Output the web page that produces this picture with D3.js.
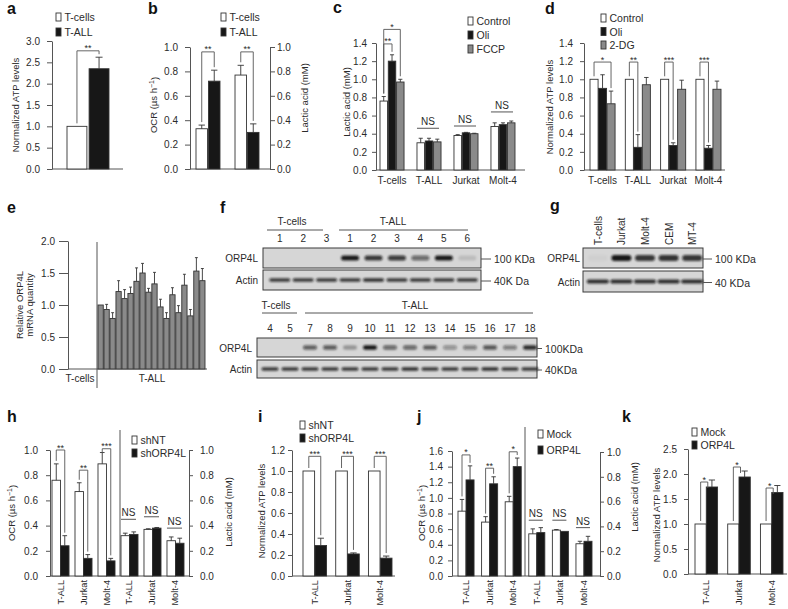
<!DOCTYPE html>
<html><head><meta charset="utf-8">
<script src="https://cdn.jsdelivr.net/npm/d3@7"></script>
<style>
body{margin:0;background:#fff;}
svg{display:block;}
</style></head><body>
<svg id="fig" width="788" height="609"></svg>
<script>
// ================= DATA =================
// (a) ATP levels
const aGroups = ["ATP"];
const aSeries = ["T-cells", "T-ALL"];
const aValues = [[1.00], [2.35]];
const aErrors = [[0.00], [0.27]];
const aTicks = [0, 0.5, 1.0, 1.5, 2.0, 2.5, 3.0];
// (b) OCR (left) / lactic acid (right)
const bGroups = ["OCR", "Lactic acid"];
const bSeries = ["T-cells", "T-ALL"];
const bValues = [[0.33, 0.77], [0.72, 0.30]];
const bErrors = [[0.03, 0.08], [0.09, 0.07]];
const bTicks = [0, 0.2, 0.4, 0.6, 0.8, 1.0];
// (c) lactic acid
const cGroups = ["T-cells", "T-ALL", "Jurkat", "Molt-4"];
const cSeries = ["Control", "Oli", "FCCP"];
const cValues = [[0.76, 0.30, 0.38, 0.48], [1.20, 0.32, 0.41, 0.50], [0.97, 0.31, 0.40, 0.52]];
const cErrors = [[0.05, 0.05, 0.01, 0.04], [0.07, 0.03, 0.005, 0.02], [0.03, 0.03, 0.005, 0.02]];
const cTicks = [0, 0.2, 0.4, 0.6, 0.8, 1.0, 1.2, 1.4];
// (d) ATP levels
const dGroups = ["T-cells", "T-ALL", "Jurkat", "Molt-4"];
const dSeries = ["Control", "Oli", "2-DG"];
const dValues = [[1, 1, 1, 1], [0.90, 0.25, 0.27, 0.24], [0.73, 0.94, 0.89, 0.89]];
const dErrors = [[0, 0, 0, 0], [0.15, 0.14, 0.03, 0.03], [0.14, 0.08, 0.10, 0.09]];
const dTicks = [0, 0.2, 0.4, 0.6, 0.8, 1.0, 1.2, 1.4];
// (e) ORP4L mRNA in 18 T-ALL samples
const eSamples = ["1","2","3","4","5","6","7","8","9","10","11","12","13","14","15","16","17","18"];
const eValues = [1.00, 0.93, 0.79, 1.21, 1.10, 1.18, 1.37, 1.50, 1.20, 1.33, 0.97, 0.79, 1.16, 0.88, 1.31, 0.83, 1.53, 1.38];
const eErrors = [0.00, 0.08, 0.09, 0.17, 0.14, 0.10, 0.21, 0.15, 0.06, 0.18, 0.12, 0.09, 0.11, 0.11, 0.17, 0.10, 0.21, 0.19];
const eTicks = [0, 0.5, 1.0, 1.5, 2.0];
// (f) western blots
const fTopLanes = ["1","2","3","1","2","3","4","5","6"];
const fTopORP4L = [0, 0, 0, 0.95, 0.8, 0.78, 0.55, 0.95, 0.12];
const fTopActin = [0.8, 0.8, 0.8, 0.8, 0.85, 0.8, 0.8, 0.8, 0.8];
const fLowLanes = ["4","5","7","8","9","10","11","12","13","14","15","16","17","18"];
const fLowORP4L = [0, 0, 0.6, 0.62, 0.3, 0.95, 0.55, 0.55, 0.62, 0.35, 0.45, 0.65, 0.45, 0.85];
const fLowActin = [0.8, 0.8, 0.8, 0.8, 0.8, 0.8, 0.8, 0.85, 0.8, 0.8, 0.8, 0.85, 0.8, 0.8];
// (g) cell lines blot
const gLanes = ["T-cells", "Jurkat", "Molt-4", "CEM", "MT-4"];
const gORP4L = [0.03, 0.95, 0.8, 0.82, 0.8];
const gActin = [0.85, 0.85, 0.85, 0.85, 0.85];
// (h) shRNA: OCR (left three) / lactic acid (right three)
const hGroups = ["T-ALL", "Jurkat", "Molt-4", "T-ALL", "Jurkat", "Molt-4"];
const hSeries = ["shNT", "shORP4L"];
const hValues = [[0.76, 0.67, 0.89, 0.32, 0.37, 0.28], [0.24, 0.14, 0.12, 0.33, 0.38, 0.26]];
const hErrors = [[0.13, 0.07, 0.09, 0.02, 0.005, 0.03], [0.08, 0.03, 0.02, 0.02, 0.005, 0.04]];
const hTicks = [0, 0.2, 0.4, 0.6, 0.8, 1.0];
// (i) shRNA ATP
const iGroups = ["T-ALL", "Jurkat", "Molt-4"];
const iSeries = ["shNT", "shORP4L"];
const iValues = [[1, 1, 1], [0.29, 0.21, 0.17]];
const iErrors = [[0, 0, 0], [0.07, 0.01, 0.02]];
const iTicks = [0, 0.2, 0.4, 0.6, 0.8, 1.0, 1.2];
// (j) overexpression: OCR (left three) / lactic acid (right three)
const jGroups = ["T-ALL", "Jurkat", "Molt-4", "T-ALL", "Jurkat", "Molt-4"];
const jSeries = ["Mock", "ORP4L"];
const jValues = [[0.83, 0.69, 0.95, 0.34, 0.37, 0.26], [1.23, 1.18, 1.40, 0.35, 0.36, 0.28]];
const jErrors = [[0.15, 0.07, 0.07, 0.04, 0.005, 0.02], [0.18, 0.09, 0.11, 0.04, 0.0, 0.04]];
const jTicksL = [0, 0.2, 0.4, 0.6, 0.8, 1.0, 1.2, 1.4, 1.6];
const jTicksR = [0, 0.2, 0.4, 0.6, 0.8, 1.0];
// (k) overexpression ATP
const kGroups = ["T-ALL", "Jurkat", "Molt-4"];
const kSeries = ["Mock", "ORP4L"];
const kValues = [[1, 1, 1], [1.74, 1.94, 1.63]];
const kErrors = [[0, 0, 0], [0.14, 0.12, 0.14]];
const kTicks = [0, 0.5, 1.0, 1.5, 2.0, 2.5];

// significance annotations (group, bar a, bar b, bracket level in data units)
const aSig = [{g:0, a:0, b:1, top:2.77, label:"**"}];
const bSig = [{g:0, a:0, b:1, top:0.96, label:"**"}, {g:1, a:0, b:1, top:0.96, label:"**"}];
const cSig = [{g:0, a:0, b:1, top:1.39, label:"**"}, {g:0, a:0, b:2, top:1.55, label:"*"}];
const cNS = [{g:1, level:0.46}, {g:2, level:0.485}, {g:3, level:0.64}];
const dSig = [{g:0, a:0, b:2, top:1.19, label:"*"}, {g:1, a:0, b:1, top:1.19, label:"**"}, {g:2, a:0, b:1, top:1.19, label:"***"}, {g:3, a:0, b:1, top:1.19, label:"***"}];
const hSig = [{g:0, a:0, b:1, top:1.0, label:"**"}, {g:1, a:0, b:1, top:0.84, label:"**"}, {g:2, a:0, b:1, top:1.01, label:"***"}];
const hNS = [{g:3, level:0.45}, {g:4, level:0.47}, {g:5, level:0.38}];
const iSig = [{g:0, a:0, b:1, top:1.14, label:"***"}, {g:1, a:0, b:1, top:1.14, label:"***"}, {g:2, a:0, b:1, top:1.14, label:"***"}];
const jSig = [{g:0, a:0, b:1, top:1.55, label:"*"}, {g:1, a:0, b:1, top:1.38, label:"**"}, {g:2, a:0, b:1, top:1.59, label:"*"}];
const jNS = [{g:3, level:0.45}, {g:4, level:0.45}, {g:5, level:0.39}];
const kSig = [{g:0, a:0, b:1, top:1.84, label:"*"}, {g:1, a:0, b:1, top:2.14, label:"*"}, {g:2, a:0, b:1, top:1.72, label:"*"}];

// ================= DRAWING =================
const FONT = '"Liberation Sans", Arial, Helvetica, sans-serif';
const TXT = "#2b2b2b", AX = "#555", BAR = "#333";
const WHITE = "#ffffff", BLACK = "#171717", GRAY = "#8a8a8a";
const svg = d3.select("#fig").attr("font-family", FONT);
svg.append("rect").attr("width", 788).attr("height", 609).attr("fill", "#fff");
const defs = svg.append("defs");
defs.append("filter").attr("id", "blur").attr("x", "-20%").attr("y", "-50%").attr("width", "140%").attr("height", "200%")
  .append("feGaussianBlur").attr("stdDeviation", 0.9);

function txt(x, y, s, o = {}) {
  const t = svg.append("text").attr("x", x).attr("y", y).text(s)
    .attr("font-size", o.size || 10).attr("text-anchor", o.anchor || "start").attr("fill", o.fill || TXT);
  if (o.weight) t.attr("font-weight", o.weight);
  if (o.rot) t.attr("transform", `rotate(${o.rot},${x},${y})`);
  return t;
}
function letter(x, y, s) { txt(x, y, s, {size: 16, weight: "bold", fill: "#111"}); }
function yTitle(x, y, s, size = 9.5) { return txt(x, y, s, {size, anchor: "middle", rot: -90}); }
function ocrTitle(x, y) {
  const t = txt(x, y, "", {size: 9.5, anchor: "middle", rot: -90});
  t.append("tspan").text("OCR (\u00b5s h");
  t.append("tspan").text("\u22121").attr("font-size", 7).attr("dy", "-0.45em");
  t.append("tspan").text(")").attr("dy", "0.45em");
}
function yAxis(scale, x, ticks, o = {}) {
  const ax = (o.right ? d3.axisRight(scale) : d3.axisLeft(scale)).tickValues(ticks)
    .tickFormat(d3.format(".1f")).tickSize(o.tick || 4).tickSizeOuter(0).tickPadding(o.pad || 4);
  const g = svg.append("g").attr("transform", `translate(${x},0)`).call(ax)
    .attr("font-family", FONT).attr("font-size", 10);
  g.select(".domain").attr("stroke", AX);
  g.selectAll(".tick line").attr("stroke", AX);
  g.selectAll(".tick text").attr("fill", TXT);
}
function hLine(x1, x2, y) { svg.append("line").attr("x1", x1).attr("x2", x2).attr("y1", y).attr("y2", y).attr("stroke", AX); }
function vLine(x, y1, y2) { svg.append("line").attr("x1", x).attr("x2", x).attr("y1", y1).attr("y2", y2).attr("stroke", AX); }

function barPanel(cfg) {
  const gIdx = cfg.groups.map((_, i) => i);
  const x0 = d3.scaleBand().domain(gIdx).range(cfg.range).paddingInner(cfg.pad);
  const x1 = d3.scaleBand().domain(cfg.series).range([0, x0.bandwidth()]).paddingInner(cfg.inner);
  const recs = [];
  cfg.series.forEach((s, si) => gIdx.forEach(gi => {
    recs.push({si, gi, v: cfg.values[si][gi], e: cfg.errors ? cfg.errors[si][gi] : 0,
      x: x0(gi) + x1(s), w: x1.bandwidth(), y: cfg.yOf(gi)});
  }));
  const g = svg.append("g");
  g.selectAll("rect").data(recs).join("rect")
    .attr("x", d => d.x).attr("y", d => d.y(d.v)).attr("width", d => d.w)
    .attr("height", d => d.y(0) - d.y(d.v))
    .attr("fill", d => cfg.fills[d.si]).attr("stroke", BAR).attr("stroke-width", 0.9);
  const cap = d => Math.min(d.w * 0.55, 7) / 2;
  g.selectAll("path").data(recs.filter(d => d.e > 0)).join("path")
    .attr("d", d => { const cx = d.x + d.w / 2, y1 = d.y(d.v), y2 = d.y(d.v + d.e);
      return `M${cx},${y1}V${y2}M${cx - cap(d)},${y2}H${cx + cap(d)}`; })
    .attr("stroke", BAR).attr("stroke-width", 0.9).attr("fill", "none");
  const find = (gi, si) => recs.find(d => d.gi === gi && d.si === si);
  return {x0, x1, recs, find};
}
function sigs(P, list, o = {}) {
  list.forEach(s => {
    const A = P.find(s.g, s.a), B = P.find(s.g, s.b), y = A.y;
    const top = y(s.top);
    const xa = A.x + A.w / 2, xb = o.edge ? B.x + 1.5 : B.x + B.w / 2;
    const la = Math.max(top + 4, y(A.v + A.e) - 3);
    const lb = Math.max(top + (o.edge ? 6 : 3), y(B.v + B.e) - 3);
    svg.append("path").attr("d", `M${xa},${la}V${top}H${xb}V${lb}`)
      .attr("fill", "none").attr("stroke", AX).attr("stroke-width", 0.9);
    txt((xa + xb) / 2, top + 0.5, s.label, {size: 9, anchor: "middle"});
  });
}
function nsMarks(P, list) {
  list.forEach(n => {
    const y = P.find(n.g, 0).y, x = P.x0(n.g), w = P.x0.bandwidth();
    hLine(x, x + w - 2, y(n.level));
    txt(x + w / 2 - 1, y(n.level) - 3, "NS", {size: 10, anchor: "middle"});
  });
}
function legend(x, y, labels, fills, step) {
  labels.forEach((l, i) => {
    svg.append("rect").attr("x", x).attr("y", y + i * step).attr("width", 5).attr("height", 8)
      .attr("fill", fills[i]).attr("stroke", BAR).attr("stroke-width", 0.9);
    txt(x + 8.5, y + i * step + 8, l, {size: 10.5});
  });
}
function groupLabels(P, labels, y) {
  labels.forEach((l, i) => txt(P.x0(i) + P.x0.bandwidth() / 2, y, l, {size: 10, anchor: "middle"}));
}
function rotLabels(P, labels, y) {
  labels.forEach((l, i) => txt(P.x0(i) + P.x0.bandwidth() / 2 + 3, y, l, {size: 9.2, anchor: "end", rot: -90}));
}

// ---------- (a) ----------
letter(7, 14, "a");
const yA = d3.scaleLinear().domain([0, 3]).range([169, 41]);
yAxis(yA, 52, aTicks, {tick: 5, pad: 7});
hLine(52, 123, 169);
const PA = barPanel({groups: aGroups, series: aSeries, values: aValues, errors: aErrors,
  range: [67, 109], pad: 0, inner: 0.1, yOf: () => yA, fills: [WHITE, BLACK]});
sigs(PA, aSig);
yTitle(18.5, 105, "Normalized ATP levels");
legend(56, 13, aSeries, [WHITE, BLACK], 15);

// ---------- (b) ----------
letter(148, 14, "b");
const yB = d3.scaleLinear().domain([0, 1]).range([169, 47]);
const yB2 = d3.scaleLinear().domain([0, 1]).range([169, 47]);
yAxis(yB, 190, bTicks, {tick: 5, pad: 7});
yAxis(yB2, 270, bTicks, {right: true, tick: 5, pad: 2});
hLine(190, 270, 169);
const PB = barPanel({groups: bGroups, series: bSeries, values: bValues, errors: bErrors,
  range: [196, 259], pad: 0.385, inner: 0.08, yOf: gi => gi === 0 ? yB : yB2, fills: [WHITE, BLACK]});
sigs(PB, bSig);
ocrTitle(157, 105);
yTitle(307.5, 98, "Lactic acid (mM)");
legend(221, 13, bSeries, [WHITE, BLACK], 15);

// ---------- (c) ----------
letter(333, 13, "c");
const yC = d3.scaleLinear().domain([0, 1.4]).range([170, 43]);
yAxis(yC, 376, cTicks, {tick: 4, pad: 5});
hLine(376, 525, 170);
const PC = barPanel({groups: cGroups, series: cSeries, values: cValues, errors: cErrors,
  range: [380, 515], pad: 0.35, inner: 0.1, yOf: () => yC, fills: [WHITE, BLACK, GRAY]});
sigs(PC, cSig);
nsMarks(PC, cNS);
groupLabels(PC, cGroups, 184);
yTitle(350, 102, "Lactic acid (mM)");
legend(468, 17, cSeries, [WHITE, BLACK, GRAY], 14);

// ---------- (d) ----------
letter(545, 14, "d");
const yD = d3.scaleLinear().domain([0, 1.4]).range([170, 43]);
yAxis(yD, 584, dTicks, {tick: 4, pad: 7});
hLine(584, 725, 170);
const PD = barPanel({groups: dGroups, series: dSeries, values: dValues, errors: dErrors,
  range: [590, 721], pad: 0.29, inner: 0.05, yOf: () => yD, fills: [WHITE, BLACK, GRAY]});
sigs(PD, dSig);
groupLabels(PD, dGroups, 184);
yTitle(553, 107, "Normalized ATP levels");
legend(601, 14, dSeries, [WHITE, BLACK, GRAY], 13.5);

// ---------- (e) ----------
letter(7, 213, "e");
const yE = d3.scaleLinear().domain([0, 2]).range([369, 241]);
yAxis(yE, 68, eTicks, {tick: 9, pad: 4});
hLine(68, 207, 369);
vLine(97, 242, 388);
const PE = barPanel({groups: eSamples, series: ["T-ALL"], values: [eValues], errors: [eErrors],
  range: [98, 205], pad: 0.12, inner: 0, yOf: () => yE, fills: [GRAY]});
yTitle(23, 305, "Relative ORP4L");
yTitle(33, 305, "mRNA quantity");
txt(80, 382, "T-cells", {size: 10, anchor: "middle"});
txt(152, 382, "T-ALL", {size: 10, anchor: "middle"});

// ---------- blots ----------
function blot(cfg) {
  const x = d3.scaleBand().domain(cfg.lanes.map((_, i) => i)).range(cfg.range);
  cfg.rows.forEach(r => {
    svg.append("rect").attr("x", cfg.box[0]).attr("y", r.y).attr("width", cfg.box[1] - cfg.box[0]).attr("height", r.h)
      .attr("fill", "#d6d6d6").attr("stroke", "#3a3a3a").attr("stroke-width", 1);
    svg.append("g").attr("filter", "url(#blur)").selectAll("rect").data(r.vals).join("rect")
      .attr("x", (d, i) => x(i) + x.bandwidth() / 2 - r.bw / 2).attr("y", r.y + r.h / 2 - r.bh / 2)
      .attr("width", r.bw).attr("height", r.bh).attr("rx", r.bh / 2)
      .attr("fill", "#111").attr("opacity", d => d);
    txt(cfg.labelX, r.y + r.h / 2 + 4, r.name, {size: 10, anchor: "end"});
    hLine(cfg.box[1], cfg.box[1] + r.dash, r.y + r.h / 2 + 1);
    txt(cfg.box[1] + r.dash + 3, r.y + r.h / 2 + 5, r.marker, {size: 10.5});
  });
  return x;
}
// (f)
letter(220, 213, "f");
const xFT = blot({lanes: fTopLanes, range: [268, 479], box: [263, 481], labelX: 258,
  rows: [{name: "ORP4L", y: 248, h: 20, vals: fTopORP4L, bw: 18, bh: 5, dash: 10, marker: "100 KDa"},
         {name: "Actin", y: 270, h: 20, vals: fTopActin, bw: 21, bh: 3.5, dash: 10, marker: "40K Da"}]});
fTopLanes.forEach((l, i) => txt(xFT(i) + xFT.bandwidth() / 2, 242, l, {size: 10, anchor: "middle"}));
hLine(267, 323, 230); txt(292, 225, "T-cells", {size: 10, anchor: "middle"});
hLine(339, 468, 230); txt(393, 225, "T-ALL", {size: 10, anchor: "middle"});

const xFL = blot({lanes: fLowLanes, range: [260, 540], box: [257, 537], labelX: 252,
  rows: [{name: "ORP4L", y: 338, h: 19, vals: fLowORP4L, bw: 14, bh: 4.5, dash: 5, marker: "100KDa"},
         {name: "Actin", y: 360, h: 18, vals: fLowActin, bw: 17, bh: 3.5, dash: 5, marker: "40KDa"}]});
fLowLanes.forEach((l, i) => txt(xFL(i) + xFL.bandwidth() / 2, 332, l, {size: 10, anchor: "middle"}));
hLine(262, 297, 313); txt(276, 309, "T-cells", {size: 10, anchor: "middle"});
hLine(305, 533, 313); txt(415, 309, "T-ALL", {size: 10, anchor: "middle"});

// (g)
letter(550, 211, "g");
const xG = blot({lanes: gLanes, range: [586, 704], box: [583, 703], labelX: 580,
  rows: [{name: "ORP4L", y: 248, h: 20, vals: gORP4L, bw: 20, bh: 6, dash: 9, marker: "100 KDa"},
         {name: "Actin", y: 271, h: 21, vals: gActin, bw: 22, bh: 4, dash: 9, marker: "40 KDa"}]});
gLanes.forEach((l, i) => txt(xG(i) + xG.bandwidth() / 2 + 4, 245, l, {size: 10, rot: -90}));

// ---------- (h) ----------
letter(7, 422, "h");
const yH = d3.scaleLinear().domain([0, 1]).range([576, 450]);
const yH2 = d3.scaleLinear().domain([0, 1]).range([576, 450]);
yAxis(yH, 50, hTicks, {tick: 4, pad: 8});
yAxis(yH2, 189, hTicks, {right: true, tick: 4, pad: 7});
hLine(50, 189, 576);
vLine(120, 430, 576);
const PH = barPanel({groups: hGroups, series: hSeries, values: hValues, errors: hErrors,
  range: [52, 184], pad: 0.26, inner: 0, yOf: gi => gi < 3 ? yH : yH2, fills: [WHITE, BLACK]});
sigs(PH, hSig);
nsMarks(PH, hNS);
rotLabels(PH, hGroups, 580);
ocrTitle(15, 513);
yTitle(232, 512, "Lactic acid (mM)");
legend(132, 436, hSeries, [WHITE, BLACK], 13);

// ---------- (i) ----------
letter(258, 422, "i");
const yI = d3.scaleLinear().domain([0, 1.2]).range([576, 450]);
yAxis(yI, 292, iTicks, {tick: 4, pad: 3});
hLine(292, 395, 576);
const PI = barPanel({groups: iGroups, series: iSeries, values: iValues, errors: iErrors,
  range: [303, 392], pad: 0.28, inner: 0.03, yOf: () => yI, fills: [WHITE, BLACK]});
sigs(PI, iSig);
rotLabels(PI, iGroups, 580);
yTitle(265, 511, "Normalized ATP levels");
legend(300, 421, iSeries, [WHITE, BLACK], 13);

// ---------- (j) ----------
letter(417, 422, "j");
const yJ = d3.scaleLinear().domain([0, 1.6]).range([576, 451]);
const yJ2 = d3.scaleLinear().domain([0, 1]).range([576, 452]);
yAxis(yJ, 452, jTicksL, {tick: 4, pad: 5});
yAxis(yJ2, 600, jTicksR, {right: true, tick: 4, pad: 3});
hLine(452, 600, 576);
vLine(525, 427, 576);
const PJ = barPanel({groups: jGroups, series: jSeries, values: jValues, errors: jErrors,
  range: [458, 592], pad: 0.32, inner: 0, yOf: gi => gi < 3 ? yJ : yJ2, fills: [WHITE, BLACK]});
sigs(PJ, jSig);
nsMarks(PJ, jNS);
rotLabels(PJ, jGroups, 580);
ocrTitle(425, 513);
yTitle(638, 497, "Lactic acid (mM)");
legend(538, 430, jSeries, [WHITE, BLACK], 16);

// ---------- (k) ----------
letter(622, 422, "k");
const yK = d3.scaleLinear().domain([0, 2.5]).range([574, 449]);
yAxis(yK, 688, kTicks, {tick: 4, pad: 7});
hLine(688, 787, 574);
const PK = barPanel({groups: kGroups, series: kSeries, values: kValues, errors: kErrors,
  range: [695, 783], pad: 0.31, inner: 0, yOf: () => yK, fills: [WHITE, BLACK]});
sigs(PK, kSig, {edge: true});
rotLabels(PK, kGroups, 580);
yTitle(660, 515, "Normalized ATP levels");
legend(692, 428, kSeries, [WHITE, BLACK], 13);
</script>
</body></html>
